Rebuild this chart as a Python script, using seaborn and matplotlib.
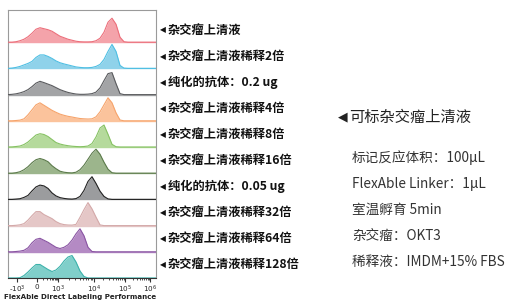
import numpy as np
import pandas as pd
import seaborn as sns
import matplotlib.pyplot as plt

# 样本名称 (从上到下)
samples = ["杂交瘤上清液", "杂交瘤上清液稀释2倍", "纯化的抗体：0.2 ug", "杂交瘤上清液稀释4倍",
           "杂交瘤上清液稀释8倍", "杂交瘤上清液稀释16倍", "纯化的抗体：0.05 ug", "杂交瘤上清液稀释32倍",
           "杂交瘤上清液稀释64倍", "杂交瘤上清液稀释128倍"]

# 荧光通道 (显示坐标)
channel = [8, 12, 16, 20, 24, 28, 32, 36, 40, 44, 48, 52, 56, 60, 64, 68, 72, 76, 80, 84,
           88, 92, 96, 100, 104, 108, 112, 116, 120, 124, 128, 132, 136, 140, 144, 148, 152, 156]

# 各样本直方图计数 (相对高度)
c_sup = [0, 0, 0.5, 1.5, 3, 5.5, 9, 13, 14.5, 13.5, 12.5, 11, 8.5, 6, 4.5, 3, 2, 1, 0.5, 0.3,
         0.3, 0.5, 1.5, 4, 10, 20, 24, 18, 5, 0.5, 0, 0, 0, 0, 0, 0, 0, 0]
c_d2 = [0, 0.3, 1, 2, 3.5, 5, 7, 11, 13.5, 13.5, 12, 10, 7.5, 5.7, 4.5, 3.5, 2.5, 1.5, 1, 0.7,
        0.7, 1, 2, 4, 9, 17, 24, 17, 3, 0.3, 0, 0, 0, 0, 0, 0, 0, 0]
c_pur02 = [0, 0.3, 0.8, 1.7, 3, 5, 8, 11.5, 13.3, 12, 10.5, 9, 7, 5, 3.5, 2.2, 1.3, 0.6, 0.3, 0.3,
           0.5, 1, 2.5, 6.7, 14, 21, 22, 11, 1, 0, 0, 0, 0, 0, 0, 0, 0, 0]
c_d4 = [0, 0, 0.3, 0.7, 2, 6, 11, 16, 18, 15.5, 13, 10.5, 8.5, 6.7, 5.5, 4.5, 3.8, 3, 2.3, 2,
        1.8, 2, 4, 9, 16, 23, 18, 8, 0.8, 0, 0, 0, 0, 0, 0, 0, 0, 0]
c_d8 = [0, 0.1, 0.5, 1, 2.5, 5, 8.5, 12, 13.3, 12.5, 10.5, 7.5, 4.5, 3, 2, 1.3, 0.8, 0.5, 0.3, 0.5,
        1, 3.5, 10, 19, 22, 12.7, 2.7, 0.3, 0, 0, 0, 0, 0, 0, 0, 0, 0, 0]
c_d16 = [0, 0, 0.5, 1.5, 3.5, 6.5, 10.5, 13.5, 14.7, 13.5, 11.5, 7.5, 4.5, 2, 1, 0.5, 0.3, 1, 3.5, 8,
         14, 20, 24, 19, 11, 4, 0.5, 0, 0, 0, 0, 0, 0, 0, 0, 0, 0, 0]
c_pur005 = [0, 0, 0.3, 0.7, 2, 4, 8.5, 12.5, 14.3, 13.5, 11, 6.5, 3.5, 1.8, 1, 0.5, 0.3, 0.8, 3, 9,
            18, 22.7, 16, 8.3, 3, 0.5, 0, 0, 0, 0, 0, 0, 0, 0, 0, 0, 0, 0]
c_d32 = [0, 0, 0.3, 0.8, 2, 5.5, 10, 14, 14, 11, 9, 7, 4, 2, 1, 0.6, 0.5, 1.2, 8.3, 16,
         23, 16.7, 8.5, 0.7, 0, 0, 0, 0, 0, 0, 0, 0, 0, 0, 0, 0, 0, 0]
c_d64 = [0, 0, 0.3, 0.7, 1.5, 4, 9, 12.5, 13.5, 11.5, 9.5, 7, 4.5, 3.3, 4.5, 7, 11.7, 18, 23, 16,
         4.5, 0.3, 0, 0, 0, 0, 0, 0, 0, 0, 0, 0, 0, 0, 0, 0, 0, 0]
c_d128 = [0, 0, 0, 0.3, 2.5, 6, 10, 13.5, 13.5, 11, 8.5, 6.5, 8, 11.7, 17, 21, 22.5, 16, 7, 1.5,
          0, 0, 0, 0, 0, 0, 0, 0, 0, 0, 0, 0, 0, 0, 0, 0, 0, 0]

counts = [c_sup, c_d2, c_pur02, c_d4, c_d8, c_d16, c_pur005, c_d32, c_d64, c_d128]

fill_colors = ["#f4a3aa", "#8fd2ea", "#a3a4a6", "#fbc39c", "#b5da9c",
               "#9cb58c", "#9b9c9e", "#e5c7c7", "#b48ac4", "#80cfca"]
edge_colors = ["#ec6f7b", "#4fbfe3", "#5a5b5e", "#f6a46c", "#86c263",
               "#5b7a4a", "#222222", "#d4a9a9", "#8a55a3", "#3cb2ab"]

# x 轴刻度
tick_pos = [17, 37, 58, 94, 125, 150]
tick_labels = [r"-10$^3$", "0", r"10$^3$", r"10$^4$", r"10$^5$", r"10$^6$"]

# 实验条件
notes = ["标记反应体积：100μL", "FlexAble Linker：1μL", "室温孵育 5min",
         "杂交瘤：OKT3", "稀释液：IMDM+15% FBS"]

rows = []
for i, name in enumerate(samples):
    for x, c in zip(channel, counts[i]):
        rows.append({"sample": name, "channel": x, "y": (9 - i) + c / 26.2})
df = pd.DataFrame(rows)

sns.set_theme(style="white")
plt.rcParams['font.family'] = ['Noto Sans CJK SC', 'DejaVu Sans']

fig = plt.figure(figsize=(5.26, 3.02), dpi=100)
W, H = 526, 302
ax = fig.add_axes([8 / W, (H - 278) / H, 148 / W, 268 / H])

for i, name in enumerate(samples):
    base = 9 - i
    sub = df[df["sample"] == name]
    ax.axhline(base, color=fill_colors[i], lw=1.0, zorder=1)
    ax.fill_between(sub["channel"], base, sub["y"], color=fill_colors[i], lw=0, zorder=2)
    sns.lineplot(data=sub, x="channel", y="y", color=edge_colors[i], lw=0.8,
                 ax=ax, zorder=3, legend=False)

ax.set_xlim(8, 156)
ax.set_ylim(0, 10.23)
ax.set_yticks([])
ax.set_xticks(tick_pos)
ax.set_xticklabels(tick_labels, fontsize=5.2, family=['DejaVu Sans'])
minor = []
for a, b in [(37, 58), (58, 94), (94, 125), (125, 150)]:
    minor += list(a + (b - a) * np.log10(np.arange(2, 10)))
ax.set_xticks(minor, minor=True)
ax.tick_params(axis="x", which="major", length=3, width=0.8, color="#333333", pad=1, bottom=True)
ax.tick_params(axis="x", which="minor", length=1.5, width=0.6, color="#333333", bottom=True)
ax.set_xlabel("")
ax.set_ylabel("")
fig.text(80 / W, 1 - 297 / H, "FlexAble Direct Labeling Performance", fontsize=5.1,
         fontweight="bold", family=['DejaVu Sans'], ha="center", va="center", color="#222222")
for s in ax.spines.values():
    s.set_color("#9a9a9a")
    s.set_linewidth(0.8)
ax.spines["bottom"].set_color("#333333")

# 右侧样本标签
for i, name in enumerate(samples):
    yc = 1 - (30 + 26.1 * i) / H
    fig.text(160 / W, yc, "◀", fontsize=5.5, ha="left", va="center", color="#111111",
             family=['DejaVu Sans'])
    fig.text(168 / W, yc, name, fontsize=8.8, fontweight="bold", ha="left", va="center",
             color="#111111")

fig.text(338 / W, 1 - 117 / H, "◀", fontsize=9, ha="left", va="center", color="#222222",
         family=['DejaVu Sans'])
fig.text(349 / W, 1 - 117 / H, "可标杂交瘤上清液", fontsize=11, ha="left", va="center",
         color="#222222")
for j, t in enumerate(notes):
    fig.text(352 / W, 1 - (158 + 26 * j) / H, t, fontsize=9.8, ha="left", va="center",
             color="#333333")

fig.savefig("out.png", dpi=100)
